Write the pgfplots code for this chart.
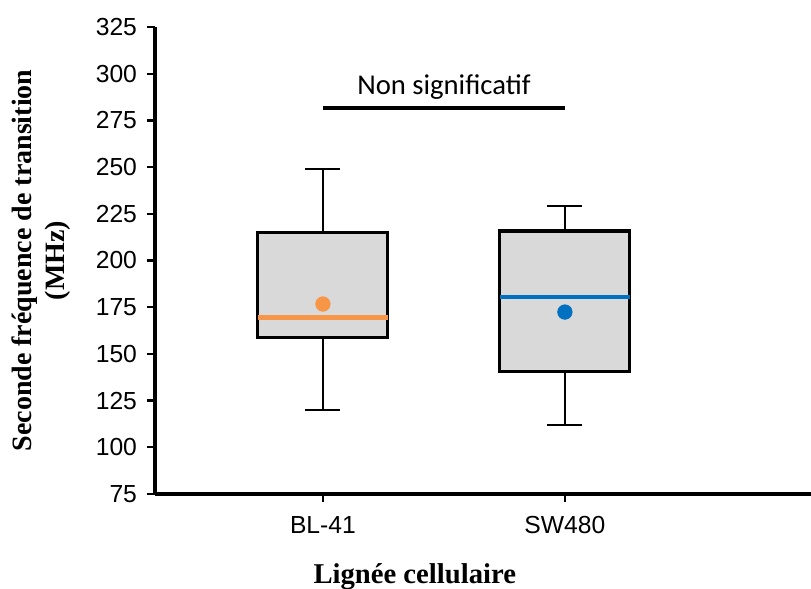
\documentclass[border=0pt]{standalone}
\usepackage{fontspec}
\setmainfont{Liberation Sans}
\newfontfamily\tnrfont{Liberation Serif}
\newfontfamily\calfont{Carlito}
\usepackage{pgfplots}
\pgfplotsset{compat=1.18}
\definecolor{medorange}{HTML}{F79646}
\definecolor{medblue}{HTML}{0070C0}
\definecolor{boxgray}{HTML}{D9D9D9}
\begin{document}
\begin{tikzpicture}
\begin{axis}[
  scale only axis, width=492pt, height=350.25pt,
  xmin=0.306, xmax=3.017, ymin=75, ymax=325,
  axis x line*=bottom, axis y line*=left,
  axis line style={line width=2.3pt, -, black},
  xtick={1,2}, xticklabels={BL-41,SW480},
  ytick={75,100,...,325},
  tick align=outside, major tick length=6pt,
  tick style={line width=1.8pt, black},
  /pgf/number format/assume math mode=true,
  ticklabel style={font=\fontsize{18.5}{20}\selectfont},
  xticklabel style={yshift=-7pt},
  yticklabel style={xshift=-4pt},
  ylabel={Seconde fréquence de transition\\(MHz)},
  ylabel style={at={(axis description cs:-0.1738,0.5)}, anchor=center, align=center, font=\tnrfont\bfseries\fontsize{21}{24.75}\selectfont},
  xlabel={Lignée cellulaire},
  xlabel style={at={(axis description cs:0.396,-0.1906)}, anchor=base, font=\tnrfont\bfseries\fontsize{21.5}{24}\selectfont},
  clip=false,
]
% BL-41: lower whisker 120, Q1 159, median 169.4, Q3 215, upper whisker 249, mean 176.7
\addplot[draw=black, line width=1.9pt, mark=none] coordinates {(1,215) (1,249)};
\addplot[draw=black, line width=1.9pt, mark=none] coordinates {(1,159) (1,120)};
\addplot[draw=black, line width=1.9pt, mark=none] coordinates {(0.9275,249) (1.0725,249)};
\addplot[draw=black, line width=1.9pt, mark=none] coordinates {(0.9275,120) (1.0725,120)};
\addplot[draw=black, fill=boxgray, line width=2.3pt, mark=none] coordinates {(0.7315,159) (1.2685,159) (1.2685,215) (0.7315,215)} --cycle;
\addplot[draw=medorange, line width=3.5pt, mark=none] coordinates {(0.7315,169.4) (1.2685,169.4)};
% SW480: lower whisker 112, Q1 140.5, median 180.5, Q3 215.8, upper whisker 229.2, mean 172.4
\addplot[draw=black, line width=1.9pt, mark=none] coordinates {(2,215.8) (2,229.2)};
\addplot[draw=black, line width=1.9pt, mark=none] coordinates {(2,140.5) (2,112)};
\addplot[draw=black, line width=1.9pt, mark=none] coordinates {(1.9275,229.2) (2.0725,229.2)};
\addplot[draw=black, line width=1.9pt, mark=none] coordinates {(1.9275,112) (2.0725,112)};
\addplot[draw=black, fill=boxgray, line width=2.3pt, mark=none] coordinates {(1.7315,140.5) (2.2685,140.5) (2.2685,215.8) (1.7315,215.8)} --cycle;
\addplot[draw=medblue, line width=3.5pt, mark=none] coordinates {(1.7315,180.5) (2.2685,180.5)};
% means
\addplot[only marks, mark=*, mark size=5.5pt, color=medorange] coordinates {(1,176.7)};
\addplot[only marks, mark=*, mark size=5.5pt, color=medblue] coordinates {(2,172.4)};
% significance bar
\addplot[black, line width=3pt, mark=none] coordinates {(1,281.5) (2,281.5)};
\node[font=\calfont\fontsize{21.5}{24}\selectfont, anchor=base] at (axis cs:1.5,288.6) {Non significatif};
\end{axis}
\pgfresetboundingbox
\path[use as bounding box] (-116.25pt,-71.25pt) rectangle (492pt,370.5pt);
\end{tikzpicture}
\end{document}
